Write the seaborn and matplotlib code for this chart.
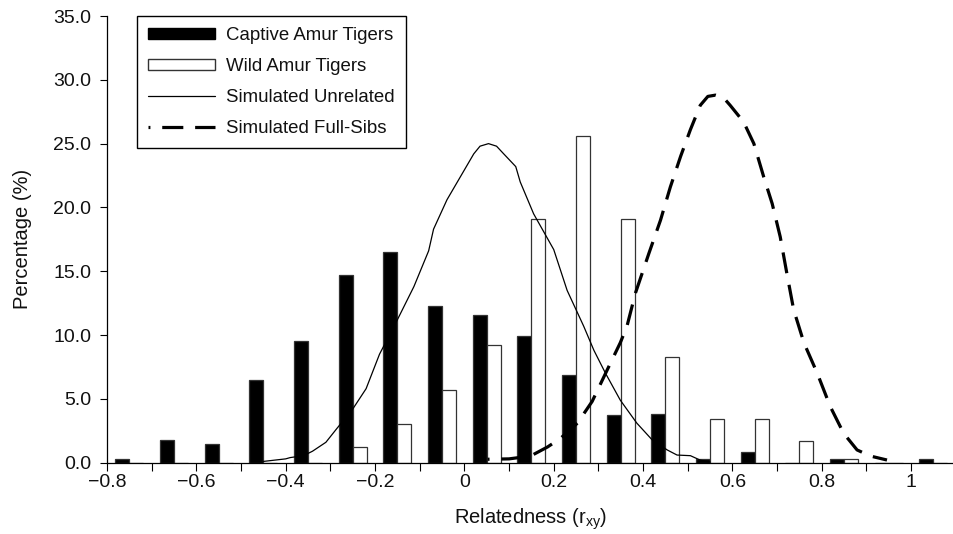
import matplotlib
matplotlib.use("Agg")
import matplotlib.pyplot as plt
import numpy as np
import pandas as pd
import seaborn as sns
from matplotlib.patches import Patch
from matplotlib.lines import Line2D

# bins of relatedness (centres) and the two observed samples (%)
bin_centres = [-0.75, -0.65, -0.55, -0.45, -0.35, -0.25, -0.15, -0.05, 0.05, 0.15,
               0.25, 0.35, 0.45, 0.55, 0.65, 0.75, 0.85, 0.95, 1.05]
captive = [0.3, 1.8, 1.5, 6.5, 9.5, 14.7, 16.5, 12.3, 11.6, 9.9,
           6.9, 3.7, 3.8, 0.3, 0.8, 0.0, 0.3, 0.0, 0.3]
wild = [0.0, 0.0, 0.0, 0.0, 0.0, 1.2, 3.0, 5.7, 9.2, 19.1,
        25.6, 19.1, 8.3, 3.4, 3.4, 1.7, 0.3, 0.0, 0.0]

# simulated distributions
unrel_x = [-0.45, -0.40, -0.39, -0.36, -0.34, -0.31, -0.285, -0.25, -0.22, -0.19,
           -0.15, -0.113, -0.08, -0.069, -0.039, -0.009, 0.021, 0.035, 0.054, 0.072,
           0.088, 0.115, 0.125, 0.155, 0.20, 0.23, 0.267, 0.29, 0.316, 0.349,
           0.386, 0.42, 0.454, 0.476, 0.506, 0.528, 0.55]
unrel_y = [0.1, 0.3, 0.4, 0.55, 0.9, 1.6, 2.7, 4.2, 5.8, 8.5,
           11.2, 13.8, 16.6, 18.3, 20.6, 22.4, 24.2, 24.8, 25.0, 24.8,
           24.2, 23.2, 22.0, 19.5, 16.7, 13.5, 10.7, 8.8, 7.0, 4.9,
           3.1, 1.8, 1.0, 0.6, 0.55, 0.2, 0.05]
sib_x = [0.052, 0.10, 0.148, 0.186, 0.215, 0.253, 0.286, 0.316, 0.349, 0.364,
         0.383, 0.413, 0.439, 0.461, 0.484, 0.506, 0.528, 0.545, 0.562, 0.58,
         0.595, 0.625, 0.648, 0.670, 0.689, 0.707, 0.722, 0.737, 0.760, 0.790,
         0.819, 0.849, 0.879, 0.909, 0.946]
sib_y = [0.27, 0.3, 0.52, 1.23, 1.9, 3.1, 4.8, 7.0, 9.4, 10.7,
         13.3, 16.4, 19.0, 21.6, 24.0, 26.1, 28.0, 28.7, 28.8, 28.6,
         28.0, 26.7, 25.0, 22.4, 20.3, 17.7, 14.8, 12.0, 9.4, 7.0,
         4.4, 2.3, 1.0, 0.52, 0.21]

x_ticks = [-0.8, -0.7, -0.6, -0.5, -0.4, -0.3, -0.2, -0.1, 0.0, 0.1,
           0.2, 0.3, 0.4, 0.5, 0.6, 0.7, 0.8, 0.9, 1.0]
x_ticklabels = ['\u22120.8', '', '\u22120.6', '', '\u22120.4', '', '\u22120.2', '', '0', '',
                '0.2', '', '0.4', '', '0.6', '', '0.8', '', '1']
y_ticks = [0, 5, 10, 15, 20, 25, 30, 35]
legend_labels = ['Captive Amur Tigers', 'Wild Amur Tigers',
                 'Simulated Unrelated', 'Simulated Full-Sibs']

sns.set_style("ticks")
plt.rcParams['font.family'] = ['Liberation Sans', 'DejaVu Sans']
plt.rcParams['mathtext.fontset'] = 'custom'
plt.rcParams['mathtext.rm'] = 'Liberation Sans'
plt.rcParams['mathtext.it'] = 'Liberation Sans'
plt.rcParams['font.size'] = 13

fig = plt.figure(figsize=(9.54, 5.34), dpi=100)
ax = fig.add_axes([107 / 954, 1 - 462.7 / 534, 847 / 954, 446.7 / 534])

df = pd.DataFrame({
    'r': bin_centres * 2,
    'pct': captive + wild,
    'group': ['Captive'] * len(captive) + ['Wild'] * len(wild),
})
sns.barplot(data=df, x='r', y='pct', hue='group', native_scale=True,
            palette={'Captive': 'black', 'Wild': 'white'}, saturation=1,
            width=0.627, errorbar=None, edgecolor='#333333', linewidth=0.9,
            legend=False, ax=ax)

sibs_ls = (6.0, (6.6, 3.7))
sns.lineplot(x=unrel_x, y=unrel_y, color='black', linewidth=0.9, sort=False, ax=ax)
sns.lineplot(x=sib_x, y=sib_y, color='black', linewidth=2.3, linestyle=sibs_ls,
             sort=False, ax=ax)

ax.set_xlim(-0.8, 1.096)
ax.set_ylim(0, 35)
ax.set_xticks(x_ticks)
ax.set_xticklabels(x_ticklabels)
ax.set_yticks(y_ticks)
ax.set_yticklabels(['%.1f' % v for v in y_ticks])
ax.tick_params(axis='both', direction='out', length=5.4, width=0.8, color='black',
               labelsize=14, labelcolor='#111111')
ax.tick_params(axis='y', pad=6)
ax.tick_params(axis='x', pad=3)

sns.despine(ax=ax)
for side in ['left', 'bottom']:
    ax.spines[side].set_color('black')
    ax.spines[side].set_linewidth(0.9)

ax.set_xlabel('Relatedness (r$_\\mathrm{xy}$)', fontsize=14.5, color='#111111')
ax.set_ylabel('Percentage (%)', fontsize=14.5, color='#111111')
ax.xaxis.set_label_coords(0.5, -0.099)
ax.yaxis.set_label_coords(-0.0886, 0.5)

handles = [
    Patch(facecolor='black', edgecolor='black'),
    Patch(facecolor='white', edgecolor='#333333', linewidth=1.0),
    Line2D([], [], color='black', linewidth=0.9),
    Line2D([], [], color='black', linewidth=2.3, linestyle=sibs_ls),
]
leg = ax.legend(handles, legend_labels, loc='upper left',
                bbox_to_anchor=(30 / 847, 1.0), borderaxespad=0,
                frameon=True, fancybox=False, framealpha=1, edgecolor='black',
                fontsize=13.4, handlelength=3.6, handleheight=0.55,
                handletextpad=0.6, labelspacing=0.75, borderpad=0.6)
leg.get_frame().set_linewidth(1.0)
for t in leg.get_texts():
    t.set_color('#111111')

fig.savefig('out.png', dpi=100)
